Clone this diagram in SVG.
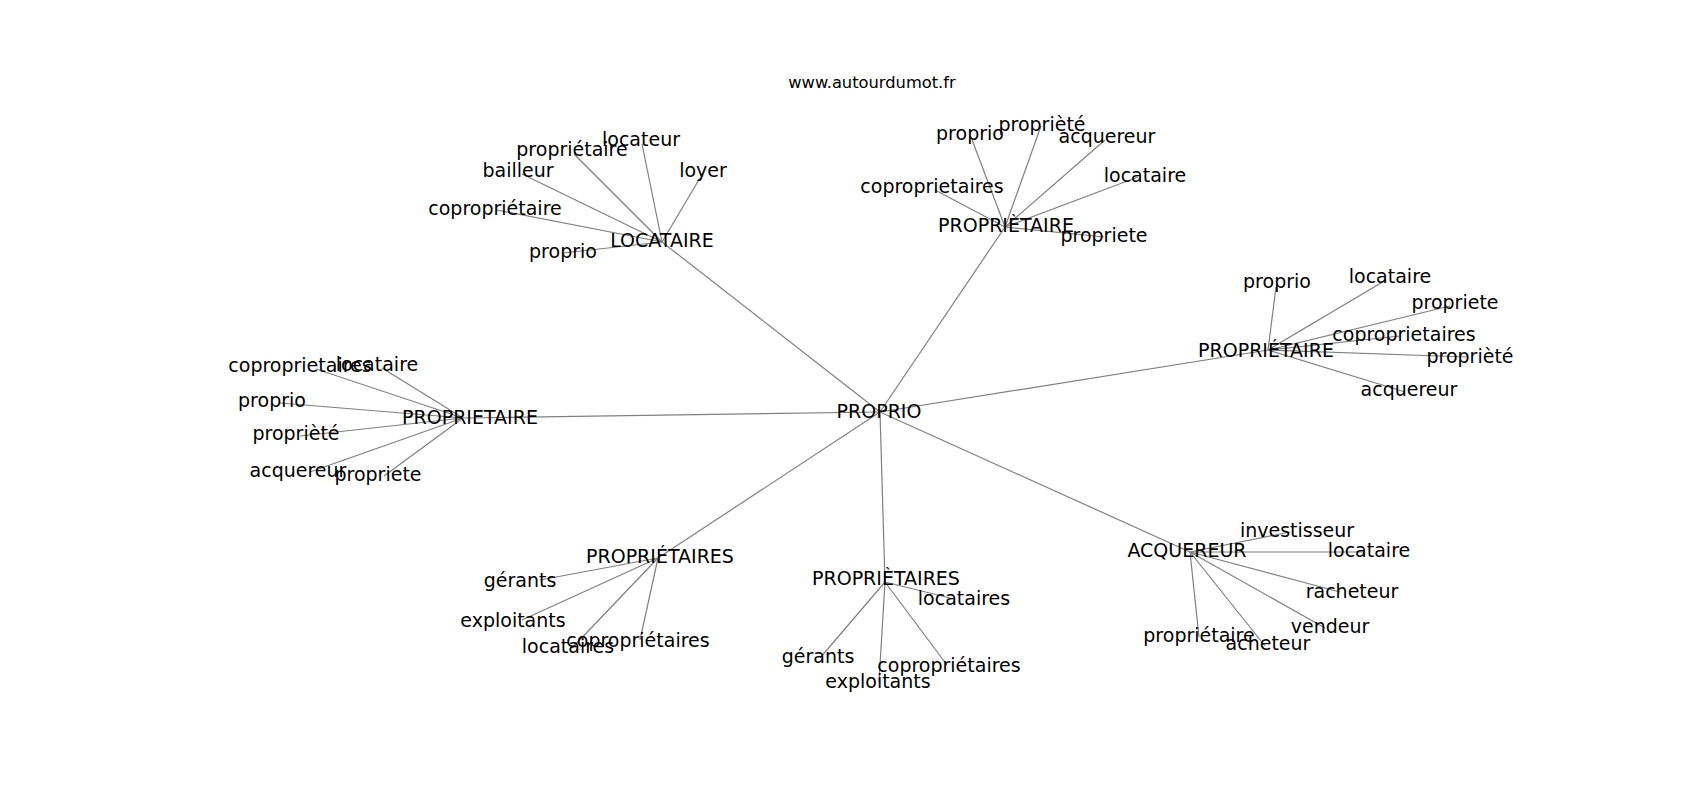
<svg xmlns="http://www.w3.org/2000/svg" width="1700" height="800" viewBox="0 0 1700 800">
<style>
text{font-family:"DejaVu Sans",sans-serif;font-size:19px;fill:#000;text-anchor:middle}
.t{font-size:16.3px}
#edges line{stroke:#808080;stroke-width:1.2}
</style>
<rect width="1700" height="800" fill="#fff"/>
<text class="t" x="872" y="88">www.autourdumot.fr</text>
<g id="edges">
<line x1="880" y1="412" x2="662" y2="242"/>
<line x1="880" y1="412" x2="1005" y2="227"/>
<line x1="880" y1="412" x2="1268" y2="350"/>
<line x1="880" y1="412" x2="463" y2="418"/>
<line x1="880" y1="412" x2="658" y2="558"/>
<line x1="880" y1="412" x2="885" y2="582"/>
<line x1="880" y1="412" x2="1190" y2="552"/>
<line x1="662" y1="242" x2="563" y2="253"/>
<line x1="662" y1="242" x2="497" y2="210"/>
<line x1="662" y1="242" x2="522" y2="174"/>
<line x1="662" y1="242" x2="574" y2="154"/>
<line x1="662" y1="242" x2="642" y2="144"/>
<line x1="662" y1="242" x2="700" y2="178"/>
<line x1="1005" y1="227" x2="971" y2="137"/>
<line x1="1005" y1="227" x2="1041" y2="126"/>
<line x1="1005" y1="227" x2="1105" y2="140"/>
<line x1="1005" y1="227" x2="1138" y2="177"/>
<line x1="1005" y1="227" x2="935" y2="190"/>
<line x1="1005" y1="227" x2="1104" y2="237"/>
<line x1="1268" y1="350" x2="1276" y2="287"/>
<line x1="1268" y1="350" x2="1386" y2="280"/>
<line x1="1268" y1="350" x2="1450" y2="306"/>
<line x1="1268" y1="350" x2="1400" y2="336"/>
<line x1="1268" y1="350" x2="1468" y2="357"/>
<line x1="1268" y1="350" x2="1405" y2="392"/>
<line x1="463" y1="418" x2="316" y2="369"/>
<line x1="463" y1="418" x2="382" y2="368"/>
<line x1="463" y1="418" x2="280" y2="403"/>
<line x1="463" y1="418" x2="300" y2="436"/>
<line x1="463" y1="418" x2="310" y2="472"/>
<line x1="463" y1="418" x2="384" y2="476"/>
<line x1="658" y1="558" x2="540" y2="580"/>
<line x1="658" y1="558" x2="522" y2="620"/>
<line x1="658" y1="558" x2="572" y2="648"/>
<line x1="658" y1="558" x2="640" y2="640"/>
<line x1="885" y1="582" x2="950" y2="598"/>
<line x1="885" y1="582" x2="820" y2="658"/>
<line x1="885" y1="582" x2="879" y2="682"/>
<line x1="885" y1="582" x2="947" y2="665"/>
<line x1="1190" y1="552" x2="1290" y2="532"/>
<line x1="1190" y1="552" x2="1365" y2="552"/>
<line x1="1190" y1="552" x2="1340" y2="592"/>
<line x1="1190" y1="552" x2="1325" y2="628"/>
<line x1="1190" y1="552" x2="1199" y2="637"/>
<line x1="1190" y1="552" x2="1265" y2="646"/>
</g>
<g id="n-proprio"><text x="879" y="418">PROPRIO</text></g>
<g id="n-locataire-hub"><text x="662" y="247">LOCATAIRE</text>
<text x="563" y="258">proprio</text>
<text x="495" y="215">copropriétaire</text>
<text x="518" y="177">bailleur</text>
<text x="572" y="156">propriétaire</text>
<text x="641" y="146">locateur</text>
<text x="703" y="177">loyer</text></g>
<g id="n-proprietaire-top"><text x="1006" y="232">PROPRIÈTAIRE</text>
<text x="970" y="140">proprio</text>
<text x="1042" y="131">proprièté</text>
<text x="1107" y="143">acquereur</text>
<text x="1145" y="182">locataire</text>
<text x="932" y="193">coproprietaires</text>
<text x="1104" y="242">propriete</text></g>
<g id="n-proprietaire-right"><text x="1266" y="357">PROPRIÉTAIRE</text>
<text x="1277" y="288">proprio</text>
<text x="1390" y="283">locataire</text>
<text x="1455" y="309">propriete</text>
<text x="1404" y="341">coproprietaires</text>
<text x="1470" y="363">proprièté</text>
<text x="1409" y="396">acquereur</text></g>
<g id="n-proprietaire-left"><text x="470" y="424">PROPRIETAIRE</text>
<text x="300" y="372">coproprietaires</text>
<text x="377" y="371">locataire</text>
<text x="272" y="407">proprio</text>
<text x="296" y="440">proprièté</text>
<text x="298" y="477">acquereur</text>
<text x="378" y="481">propriete</text></g>
<g id="n-proprietaires-left"><text x="660" y="563">PROPRIÉTAIRES</text>
<text x="520" y="587">gérants</text>
<text x="513" y="627">exploitants</text>
<text x="568" y="653">locataires</text>
<text x="638" y="647">copropriétaires</text></g>
<g id="n-proprietaires-mid"><text x="886" y="585">PROPRIÈTAIRES</text>
<text x="964" y="605">locataires</text>
<text x="818" y="663">gérants</text>
<text x="878" y="688">exploitants</text>
<text x="949" y="672">copropriétaires</text></g>
<g id="n-acquereur"><text x="1187" y="557">ACQUEREUR</text>
<text x="1297" y="537">investisseur</text>
<text x="1369" y="557">locataire</text>
<text x="1352" y="598">racheteur</text>
<text x="1330" y="633">vendeur</text>
<text x="1199" y="642">propriétaire</text>
<text x="1268" y="650">acheteur</text></g>
</svg>
